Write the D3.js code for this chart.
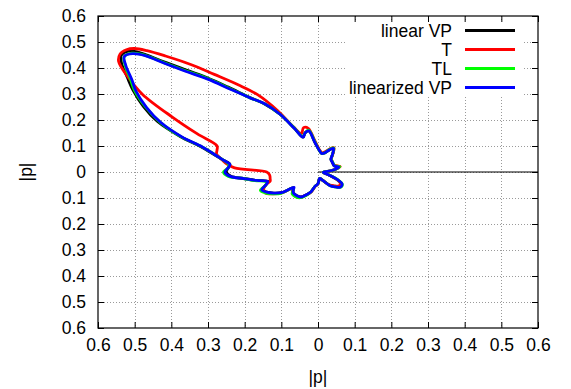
<!DOCTYPE html>
<html>
<head>
<meta charset="utf-8">
<script src="https://cdn.jsdelivr.net/npm/d3@7"></script>
<style>
  body { margin: 0; background: #fff; }
  text { font-family: 'Liberation Sans', Arial, sans-serif; fill: #000; }
</style>
</head>
<body>
<svg id="chart" width="571" height="389"></svg>
<script>
// polar angle grid (degrees) shared by every series
const angles = [0, 8, 14, 19, 24, 30, 38, 46, 54, 60, 65, 70, 76, 82, 88, 94, 99, 103, 107, 111,
  115, 119, 123, 127, 130, 133, 135, 136.5, 138, 140, 142, 145, 148, 152, 156, 160, 163, 166, 170, 173,
  176, 180, 184, 187, 191, 195, 199, 204, 209, 214, 219, 222, 225, 230, 237, 244, 250, 256, 262, 270,
  280, 292, 302, 310, 316, 320, 325, 331, 340, 350];

// |p| per angle
const rLinearVP = [0.016, 0.035, 0.052, 0.06, 0.053, 0.05, 0.052, 0.055, 0.06, 0.08, 0.1, 0.09, 0.076, 0.072, 0.085, 0.112, 0.16, 0.155, 0.14, 0.18,
  0.245, 0.298, 0.342, 0.41, 0.475, 0.545, 0.605, 0.665, 0.695, 0.70, 0.68, 0.635, 0.595, 0.54, 0.48, 0.40, 0.335, 0.298, 0.262, 0.242,
  0.245, 0.25, 0.238, 0.205, 0.17, 0.14, 0.15, 0.165, 0.16, 0.145, 0.125, 0.09, 0.095, 0.105, 0.108, 0.107, 0.093, 0.078, 0.055, 0.045,
  0.025, 0.034, 0.06, 0.073, 0.082, 0.082, 0.078, 0.06, 0.03, 0.015];
const rT = [0.018, 0.037, 0.054, 0.064, 0.058, 0.052, 0.052, 0.056, 0.062, 0.082, 0.103, 0.095, 0.08, 0.075, 0.088, 0.12, 0.17, 0.175, 0.155, 0.185,
  0.26, 0.34, 0.40, 0.47, 0.54, 0.61, 0.66, 0.69, 0.703, 0.705, 0.69, 0.63, 0.565, 0.45, 0.36, 0.293, 0.288, 0.285, 0.265, 0.25,
  0.228, 0.14, 0.133, 0.132, 0.133, 0.135, 0.15, 0.162, 0.165, 0.15, 0.128, 0.095, 0.098, 0.108, 0.112, 0.108, 0.095, 0.08, 0.057, 0.045,
  0.026, 0.036, 0.058, 0.07, 0.078, 0.078, 0.074, 0.057, 0.03, 0.016];
const rTL = [0.016, 0.035, 0.053, 0.063, 0.055, 0.051, 0.053, 0.056, 0.061, 0.08, 0.102, 0.093, 0.076, 0.072, 0.085, 0.115, 0.163, 0.155, 0.143, 0.183,
  0.245, 0.30, 0.34, 0.405, 0.47, 0.535, 0.595, 0.655, 0.683, 0.69, 0.668, 0.625, 0.59, 0.533, 0.472, 0.398, 0.33, 0.295, 0.262, 0.246,
  0.245, 0.258, 0.245, 0.205, 0.175, 0.147, 0.15, 0.172, 0.165, 0.15, 0.13, 0.093, 0.095, 0.11, 0.113, 0.11, 0.096, 0.078, 0.055, 0.045,
  0.025, 0.035, 0.062, 0.076, 0.085, 0.085, 0.081, 0.062, 0.031, 0.015];
const rLinearizedVP = [0.016, 0.035, 0.052, 0.06, 0.053, 0.05, 0.052, 0.055, 0.06, 0.08, 0.1, 0.09, 0.076, 0.072, 0.085, 0.112, 0.16, 0.155, 0.14, 0.18,
  0.245, 0.30, 0.34, 0.40, 0.465, 0.53, 0.59, 0.65, 0.68, 0.69, 0.665, 0.62, 0.585, 0.53, 0.47, 0.395, 0.33, 0.295, 0.262, 0.242,
  0.245, 0.254, 0.24, 0.205, 0.17, 0.142, 0.15, 0.168, 0.16, 0.145, 0.125, 0.088, 0.095, 0.105, 0.108, 0.107, 0.093, 0.078, 0.055, 0.045,
  0.025, 0.035, 0.062, 0.075, 0.084, 0.084, 0.08, 0.062, 0.03, 0.015];

const seriesNames = ['linear VP', 'T', 'TL', 'linearized VP'];
const seriesColors = ['#000000', '#ff0000', '#00ff00', '#0000ff'];
const seriesRadii = [rLinearVP, rT, rTL, rLinearizedVP];

const tickValues = [-0.6, -0.5, -0.4, -0.3, -0.2, -0.1, 0, 0.1, 0.2, 0.3, 0.4, 0.5, 0.6];
const rayPoints = [[0, 0], [0.6, 0]];

const svg = d3.select('#chart');
const margin = { left: 98, right: 33, top: 16, bottom: 61 };
const W = 571, H = 389;
const fontSize = '17.5px';
const x = d3.scaleLinear().domain([-0.6, 0.6]).range([margin.left, W - margin.right]);
const y = d3.scaleLinear().domain([-0.6, 0.6]).range([H - margin.bottom, margin.top]);
const fmt = (v) => (Math.abs(v) < 1e-9 ? '0' : Math.abs(v).toFixed(1));

svg.append('rect').attr('width', W).attr('height', H).attr('fill', '#fff');

// dotted grid
const grid = svg.append('g').attr('stroke', '#9a9a9a').attr('stroke-width', 1).attr('stroke-dasharray', '1,2');
grid.selectAll('line.gx').data(tickValues.slice(1, -1)).enter().append('line')
  .attr('x1', d => Math.round(x(d)) + 0.5).attr('x2', d => Math.round(x(d)) + 0.5)
  .attr('y1', y(0.6)).attr('y2', y(-0.6));
grid.selectAll('line.gy').data(tickValues.slice(1, -1)).enter().append('line')
  .attr('y1', d => Math.round(y(d)) + 0.5).attr('y2', d => Math.round(y(d)) + 0.5)
  .attr('x1', x(-0.6)).attr('x2', x(0.6));

// legend background blanks the grid
svg.append('rect').attr('x', 345).attr('y', 21).attr('width', 177).attr('height', 75).attr('fill', '#fff');

// axes with inward ticks
const axisFont = (g) => {
  g.select('.domain').remove();
  g.selectAll('.tick line').attr('stroke', '#000');
  g.selectAll('.tick text').style('font-size', fontSize).attr('fill', '#000');
};
svg.append('g').attr('transform', `translate(0,${y(-0.6)})`)
  .call(d3.axisBottom(x).tickValues(tickValues).tickFormat(fmt).tickSize(-6).tickPadding(11))
  .call(axisFont);
svg.append('g').attr('transform', `translate(0,${y(0.6)})`)
  .call(d3.axisTop(x).tickValues(tickValues).tickFormat('').tickSize(-6))
  .call(axisFont);
svg.append('g').attr('transform', `translate(${x(-0.6)},0)`)
  .call(d3.axisLeft(y).tickValues(tickValues).tickFormat(fmt).tickSize(-6).tickPadding(12))
  .call(axisFont);
svg.append('g').attr('transform', `translate(${x(0.6)},0)`)
  .call(d3.axisRight(y).tickValues(tickValues).tickFormat('').tickSize(-6))
  .call(axisFont);

svg.append('rect')
  .attr('x', x(-0.6)).attr('y', y(0.6))
  .attr('width', x(0.6) - x(-0.6)).attr('height', y(-0.6) - y(0.6))
  .attr('fill', 'none').attr('stroke', '#000').attr('stroke-width', 1.2);

// axis titles
svg.append('text').attr('x', x(0)).attr('y', 383).attr('text-anchor', 'middle')
  .style('font-size', fontSize).text('|p|');
svg.append('text').attr('transform', `translate(32,${y(0)}) rotate(-90)`).attr('text-anchor', 'middle')
  .style('font-size', fontSize).text('|p|');

// ray along angle 0
svg.append('path')
  .attr('d', d3.line().x(d => x(d[0])).y(d => y(d[1]))(rayPoints))
  .attr('stroke', '#000').attr('stroke-width', 1.2).attr('fill', 'none');

// polar curves
const toXY = (radii) => angles.map((a, i) => {
  const t = a * Math.PI / 180;
  return [x(radii[i] * Math.cos(t)), y(radii[i] * Math.sin(t))];
});
const curve = d3.line().curve(d3.curveCatmullRomClosed.alpha(0.5));
svg.append('g').selectAll('path').data(seriesRadii).enter().append('path')
  .attr('d', r => curve(toXY(r)))
  .attr('fill', 'none')
  .attr('stroke', (d, i) => seriesColors[i])
  .attr('stroke-width', 2.8)
  .attr('stroke-linejoin', 'round');

// legend
const legend = svg.append('g');
const rowY = d3.scalePoint().domain(seriesNames).range([30.5, 87.5]);
seriesNames.forEach((name, i) => {
  legend.append('text').attr('x', 452).attr('y', rowY(name)).attr('dy', '0.35em')
    .attr('text-anchor', 'end').style('font-size', fontSize).text(name);
  legend.append('line').attr('x1', 465).attr('x2', 515)
    .attr('y1', rowY(name)).attr('y2', rowY(name))
    .attr('stroke', seriesColors[i]).attr('stroke-width', 2.8);
});
</script>
</body>
</html>
